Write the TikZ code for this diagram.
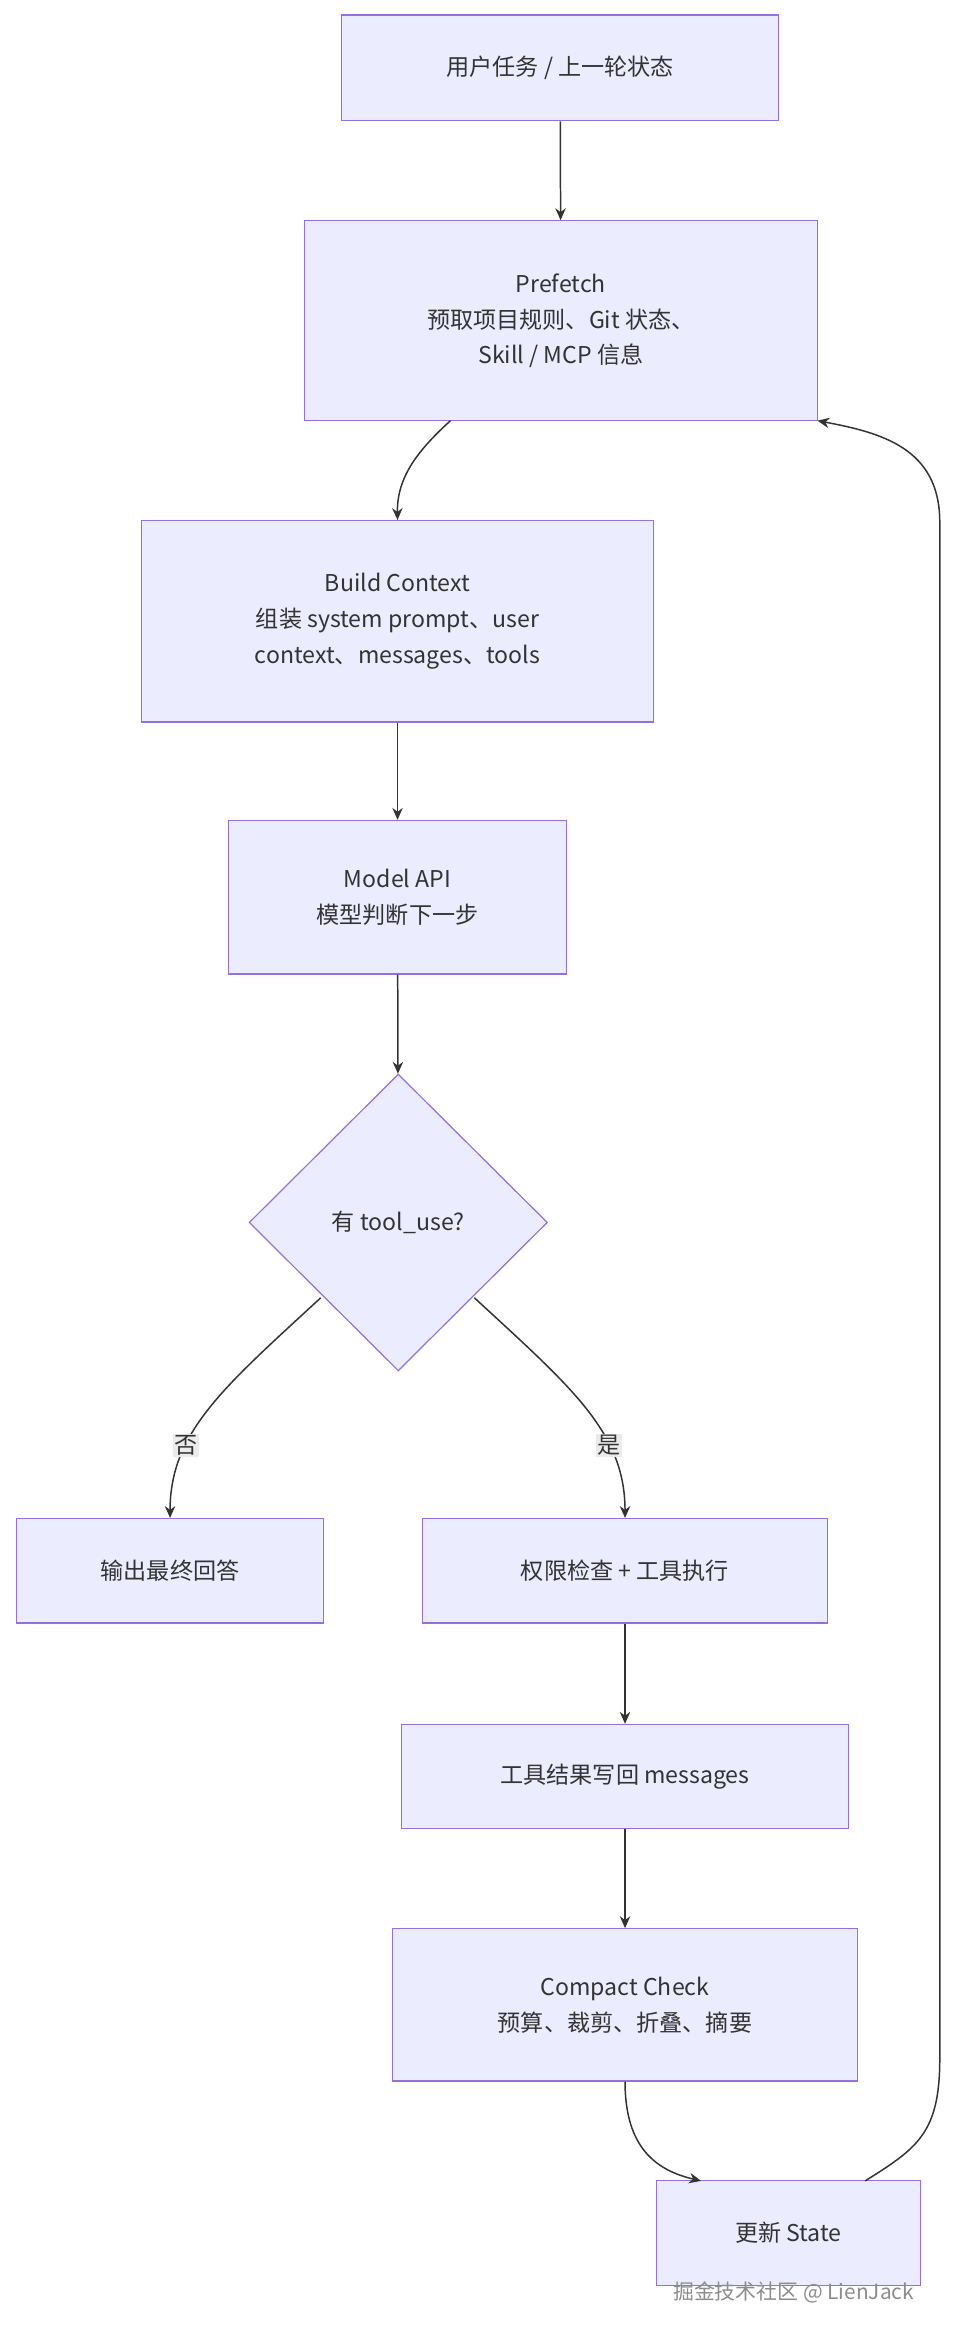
\documentclass[tikz,border=0pt]{standalone}
\usepackage{fontspec}
\setmainfont{Noto Sans CJK SC}
\usetikzlibrary{shapes.geometric,arrows.meta}
\definecolor{nfill}{HTML}{ECECFF}
\definecolor{ndraw}{HTML}{9370DB}
\definecolor{edge}{HTML}{333333}
\begin{document}
\begin{tikzpicture}[x=1pt,y=-1pt,
  box/.style={draw=ndraw,fill=nfill,line width=0.8pt,inner sep=0pt,align=center,font=\fontsize{15.5}{24}\selectfont,text=edge},
  conn/.style={draw=edge,line width=1pt,-{Stealth[length=8pt,width=7pt]}},
  lbl/.style={fill=black!8,inner sep=1pt,font=\fontsize{15.5}{18}\selectfont,text=edge}]
\useasboundingbox (0,0) rectangle (650,1566);
\node[box,minimum width=293,minimum height=71] (n1) at (375.5,45.5) {用户任务 / 上一轮状态};
\node[box,minimum width=344,minimum height=134] (n2) at (376,215) {Prefetch\\预取项目规则、Git 状态、\\Skill / MCP 信息};
\node[box,minimum width=343,minimum height=135] (n3) at (266.5,416.5) {Build Context\\组装 system prompt、user\\context、messages、tools};
\node[box,minimum width=227,minimum height=103] (n4) at (266.5,601.5) {Model API\\模型判断下一步};
\node[box,diamond,minimum width=200,minimum height=199] (d) at (267,819.5) {有 tool\_use?};
\node[box,minimum width=206,minimum height=70] (n5) at (114,1053) {输出最终回答};
\node[box,minimum width=272,minimum height=70] (n6) at (419,1053) {权限检查 + 工具执行};
\node[box,minimum width=300,minimum height=70] (n7) at (419,1191) {工具结果写回 messages};
\node[box,minimum width=312,minimum height=102] (n8) at (419,1344) {Compact Check\\预算、裁剪、折叠、摘要};
\node[box,minimum width=177,minimum height=70] (n9) at (528.5,1497) {更新 State};
\node[text=black!45,font=\fontsize{14}{16}\selectfont] (wm) at (532,1537) {掘金技术社区 @ LienJack};
\draw[conn] (n1) -- (n2);
\draw[conn] (302,282) .. controls (280,302) and (266,320) .. (n3.north);
\draw[conn] (n3) -- (n4);
\draw[conn] (n4) -- (d);
\coordinate (dl) at (215,870);
\coordinate (dr) at (318,870);
\draw[conn] (dl) .. controls (150,930) and (114,960) .. (n5.north) node[lbl,pos=0.68] {否};
\draw[conn] (dr) .. controls (383,930) and (419,960) .. (n6.north) node[lbl,pos=0.68] {是};
\draw[conn] (n6) -- (n7);
\draw[conn] (n7) -- (n8);
\draw[conn] (n8.south) .. controls (419,1440) and (440,1455) .. (470,1462);
\draw[conn] (580,1462) .. controls (615,1440) and (630,1430) .. (630,1380) -- (630,350) .. controls (630,300) and (590,290) .. (548,282);
\end{tikzpicture}
\end{document}
